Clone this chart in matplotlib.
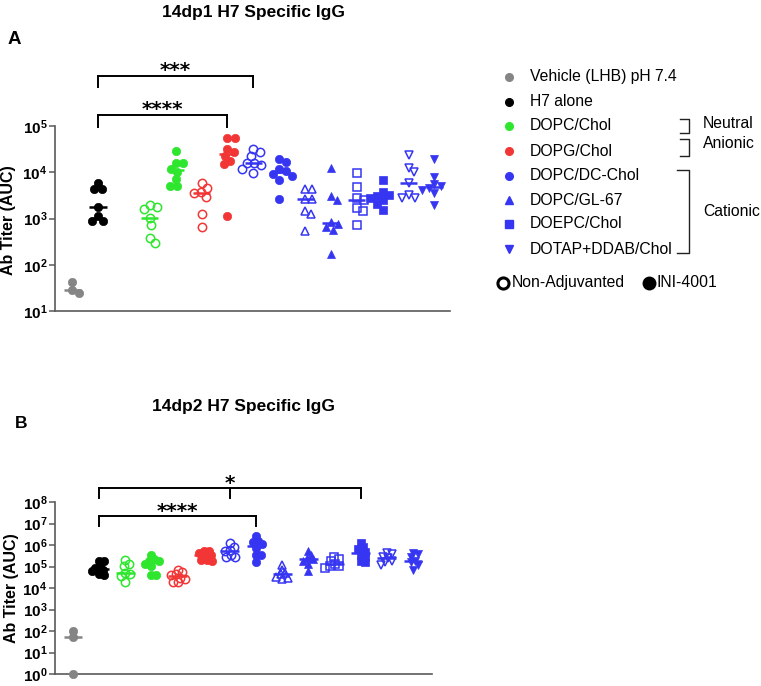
import numpy as np
import matplotlib
matplotlib.use('Agg')
import matplotlib.pyplot as plt
from matplotlib.lines import Line2D
from matplotlib.transforms import blended_transform_factory
from matplotlib.ticker import FixedLocator, FuncFormatter, NullLocator

plt.rcParams['font.family'] = ['Liberation Sans', 'DejaVu Sans']
plt.rcParams['mathtext.fontset'] = 'custom'
plt.rcParams['mathtext.rm'] = 'Liberation Sans'
plt.rcParams['mathtext.bf'] = 'Liberation Sans:bold'

# ---------------- data ----------------
legend_labels = ["Vehicle (LHB) pH 7.4", "H7 alone", "DOPC/Chol", "DOPG/Chol",
                 "DOPC/DC-Chol", "DOPC/GL-67", "DOEPC/Chol", "DOTAP+DDAB/Chol"]
group_types = ["Neutral", "Anionic", "Cationic"]
adjuvant_labels = ["Non-Adjuvanted", "INI-4001"]
title_a = "14dp1 H7 Specific IgG"
title_b = "14dp2 H7 Specific IgG"
ylabel = "Ab Titer (AUC)"
sig_a = ["****", "***"]
sig_b = ["****", "*"]

# 14dp1 (panel A)
veh_1 = [43, 28, 25]
h7_1 = [5900, 4400, 4400, 1740, 1120, 890, 890]
dopc_open_1 = [2000, 1780, 1580, 1050, 740, 370, 295]
dopc_adj_1 = [29500, 15500, 15500, 12000, 10200, 7100, 5000, 5000]
dopg_open_1 = [5900, 4600, 3800, 3550, 2950, 1230, 660]
dopg_adj_1 = [56000, 56000, 31600, 27500, 22400, 17400, 14800, 1150]
dcchol_open_1 = [31600, 27500, 22400, 16200, 15500, 14100, 12000, 9800]
dcchol_adj_1 = [19500, 16600, 11500, 10500, 9300, 8300, 6800, 2700]
gl67_open_1 = [4300, 4300, 2600, 2600, 1480, 1230, 540]
gl67_adj_1 = [12600, 3000, 2500, 850, 760, 650, 575, 174]
doepc_open_1 = [9800, 4800, 2800, 2500, 1660, 1450, 720]
doepc_adj_1 = [6800, 3800, 3200, 3000, 2800, 2500, 2100, 1550]
dotap_open_1 = [24000, 12600, 10200, 5750, 3200, 2800, 2800]
dotap_adj_1 = [19500, 7900, 5500, 5000, 4500, 4100, 3500, 2000]

# 14dp2 (panel B)
veh_2 = [100, 50, 1]
h7_2 = [190000, 174000, 112000, 89000, 71000, 60000, 45000, 40000]
dopc_open_2 = [204000, 135000, 110000, 48000, 43000, 36000, 18200]
dopc_adj_2 = [347000, 219000, 190000, 178000, 135000, 110000, 39000, 39000]
dopg_open_2 = [72000, 55000, 43000, 39000, 30000, 27500, 18200, 18200]
dopg_adj_2 = [550000, 550000, 417000, 347000, 309000, 204000, 204000, 174000]
dcchol_open_2 = [1175000, 832000, 589000, 550000, 347000, 269000, 269000]
dcchol_adj_2 = [2510000, 1550000, 1380000, 1100000, 690000, 347000, 347000, 155000]
gl67_open_2 = [123000, 72000, 48000, 43000, 34000, 30000, 25700]
gl67_adj_2 = [550000, 347000, 245000, 219000, 174000, 135000, 60000]
doepc_open_2 = [269000, 219000, 190000, 135000, 110000, 110000, 87000]
doepc_adj_2 = [1260000, 776000, 631000, 490000, 347000, 269000, 190000, 155000]
dotap_open_2 = [417000, 372000, 288000, 245000, 190000, 155000, 123000]
dotap_adj_2 = [447000, 372000, 269000, 190000, 155000, 123000, 72000]

# ---------------- styles ----------------
GRAY, BLACK, GREEN, RED, BLUE = '#858585', '#000000', '#2ee62e', '#f23636', '#3636f2'
legend_colors = [GRAY, BLACK, GREEN, RED, BLUE, BLUE, BLUE, BLUE]
legend_markers = ['o', 'o', 'o', 'o', 'o', '^', 's', 'v']

# (values, color, marker, filled)
series_a = [
    (veh_1, GRAY, 'o', True), (h7_1, BLACK, 'o', True),
    (dopc_open_1, GREEN, 'o', False), (dopc_adj_1, GREEN, 'o', True),
    (dopg_open_1, RED, 'o', False), (dopg_adj_1, RED, 'o', True),
    (dcchol_open_1, BLUE, 'o', False), (dcchol_adj_1, BLUE, 'o', True),
    (gl67_open_1, BLUE, '^', False), (gl67_adj_1, BLUE, '^', True),
    (doepc_open_1, BLUE, 's', False), (doepc_adj_1, BLUE, 's', True),
    (dotap_open_1, BLUE, 'v', False), (dotap_adj_1, BLUE, 'v', True),
]
series_b = [
    (veh_2, GRAY, 'o', True), (h7_2, BLACK, 'o', True),
    (dopc_open_2, GREEN, 'o', False), (dopc_adj_2, GREEN, 'o', True),
    (dopg_open_2, RED, 'o', False), (dopg_adj_2, RED, 'o', True),
    (dcchol_open_2, BLUE, 'o', False), (dcchol_adj_2, BLUE, 'o', True),
    (gl67_open_2, BLUE, '^', False), (gl67_adj_2, BLUE, '^', True),
    (doepc_open_2, BLUE, 's', False), (doepc_adj_2, BLUE, 's', True),
    (dotap_open_2, BLUE, 'v', False), (dotap_adj_2, BLUE, 'v', True),
]
pos_a = [0, 1] + list(range(3, 15))
pos_b = list(range(14))

W, H = 761, 686
fig = plt.figure(figsize=(W / 100, H / 100), dpi=100)


def fx(px):
    return px / W


def fy(py):
    return 1 - py / H


def axes_px(l, t, r, b):
    return fig.add_axes([fx(l), fy(b), (r - l) / W, (b - t) / H])


def swarm_offsets(ax, vals, d):
    """Beeswarm placement (in pixels) computed from the values."""
    vals = np.asarray(vals, float)
    ys = ax.transData.transform(np.c_[np.zeros(len(vals)), vals])[:, 1]
    order = np.argsort(-ys, kind='stable')
    placed = []
    xs = np.zeros(len(vals))
    for i in order:
        y = ys[i]
        cands = [0.0]
        for (px, py) in placed:
            dy = abs(py - y)
            if dy < d:
                dx = np.sqrt(d * d - dy * dy)
                cands += [px + dx, px - dx]
        cands = sorted(cands, key=lambda c: (round(abs(c), 6), -c))
        for c in cands:
            ok = all((c - px) ** 2 + (y - py) ** 2 >= d * d - 1e-6 for (px, py) in placed)
            if ok:
                xs[i] = c
                placed.append((c, y))
                break
    return xs


def draw_panel(ax, series, positions, d_px, ms, med_w):
    p0 = ax.transData.transform((0, 1))[0]
    p1 = ax.transData.transform((1, 1))[0]
    unit = p1 - p0
    for (vals, col, mk, filled), x0 in zip(series, positions):
        offs = swarm_offsets(ax, vals, d_px) / unit
        ax.plot(x0 + offs, vals, linestyle='none', marker=mk, ms=ms,
                mfc=col if filled else 'none', mec=col,
                mew=1.1 if not filled else 0.5, clip_on=False, zorder=3)
        med = np.median(vals)
        ax.plot([x0 - med_w, x0 + med_w], [med, med], color=col, lw=1.8,
                solid_capstyle='butt', zorder=4, clip_on=False)


def style_axes(ax, dec_lo, dec_hi):
    ax.set_yscale('log')
    ax.set_ylim(10 ** dec_lo, 10 ** dec_hi)
    ax.yaxis.set_major_locator(FixedLocator([10.0 ** k for k in range(dec_lo, dec_hi + 1)]))
    ax.yaxis.set_minor_locator(NullLocator())
    ax.yaxis.set_major_formatter(FuncFormatter(
        lambda v, p: r'$\mathbf{10^{%d}}$' % int(round(np.log10(v)))))
    ax.set_xticks([])
    for s in ['top', 'right']:
        ax.spines[s].set_visible(False)
    for s in ['left', 'bottom']:
        ax.spines[s].set_color('#5a5a5a')
        ax.spines[s].set_linewidth(1.2)
    ax.tick_params(axis='y', direction='out', length=4, width=1.1,
                   color='#5a5a5a', labelsize=11, pad=1.5)
    ax.patch.set_alpha(0)


# ---------------- panel A ----------------
axA = axes_px(55, 126, 450, 311)
style_axes(axA, 1, 5)
axA.set_xlim(-0.66, 14.6)
draw_panel(axA, series_a, pos_a, 7.2, 6.0, 0.33)

# ---------------- panel B ----------------
axB = axes_px(55, 502, 432, 674)
style_axes(axB, 0, 8)
axB.set_xlim(-0.69, 13.73)
draw_panel(axB, series_b, pos_b, 5.0, 6.0, 0.36)

# ---------------- titles / labels ----------------
fig.text(fx(254), fy(12), title_a, ha='center', va='center', fontsize=12.5, fontweight='bold')
fig.text(fx(244), fy(407), title_b, ha='center', va='center', fontsize=12.5, fontweight='bold')
fig.text(fx(14), fy(39), "A", ha='center', va='center', fontsize=13.5, fontweight='bold')
fig.text(fx(21), fy(424), "B", ha='center', va='center', fontsize=12.5, fontweight='bold')
fig.text(fx(9), fy(220), ylabel, ha='center', va='center', rotation=90,
         fontsize=11.5, fontweight='bold')
fig.text(fx(12), fy(588), ylabel, ha='center', va='center', rotation=90,
         fontsize=11.5, fontweight='bold')


# ---------------- significance brackets ----------------
def bracket(ax, xs, y_top, y_leg, label, tx, ty):
    tr = blended_transform_factory(ax.transData, fig.transFigure)
    ax.plot([xs[0], xs[-1]], [fy(y_top), fy(y_top)], color='black', lw=1.4,
            transform=tr, clip_on=False, solid_capstyle='projecting')
    for x in xs:
        ax.plot([x, x], [fy(y_top), fy(y_leg)], color='black', lw=1.4,
                transform=tr, clip_on=False)
    ax.text(tx, fy(ty), label, transform=tr, ha='center', va='baseline',
            fontsize=14.5, fontweight='bold', family='DejaVu Sans')


bracket(axA, [1, 6], 115, 127, sig_a[0], 3.5, 115)
bracket(axA, [1, 7], 76, 87, sig_a[1], 4.0, 76)
bracket(axB, [1, 7], 516, 526, sig_b[0], 4.0, 517)
bracket(axB, [1, 6, 11], 488, 498, sig_b[1], 6.0, 489)

# ---------------- legend ----------------
row_y = [77, 102, 126, 151, 176, 200, 224, 249]
for lab, col, mk, y in zip(legend_labels, legend_colors, legend_markers, row_y):
    fig.add_artist(Line2D([fx(509)], [fy(y)], marker=mk, ms=5.5, color=col,
                          mec=col, linestyle='none', transform=fig.transFigure))
    fig.text(fx(530), fy(y), lab, ha='left', va='center', fontsize=11.3)


def gline(xs, ys):
    fig.add_artist(Line2D([fx(x) for x in xs], [fy(y) for y in ys], color='#222222',
                          lw=1.0, transform=fig.transFigure))


gline([680, 689, 689, 680], [119, 119, 133, 133])
gline([680, 689, 689, 680], [139, 139, 156, 156])
gline([677, 689, 689, 677], [170, 170, 253, 253])
fig.text(fx(703), fy(123), group_types[0], ha='left', va='center', fontsize=11.3)
fig.text(fx(703), fy(143), group_types[1], ha='left', va='center', fontsize=11.3)
fig.text(fx(703), fy(212), group_types[2], ha='left', va='center', fontsize=11.3)

fig.add_artist(Line2D([fx(503)], [fy(283)], marker='o', ms=8, mfc='white', mec='black',
                      mew=2.2, linestyle='none', transform=fig.transFigure))
fig.text(fx(512), fy(283), adjuvant_labels[0], ha='left', va='center', fontsize=11.3)
fig.add_artist(Line2D([fx(649)], [fy(283)], marker='o', ms=9, mfc='black', mec='black',
                      linestyle='none', transform=fig.transFigure))
fig.text(fx(657), fy(283), adjuvant_labels[1], ha='left', va='center', fontsize=11.3)

fig.savefig('out.png', dpi=100)
